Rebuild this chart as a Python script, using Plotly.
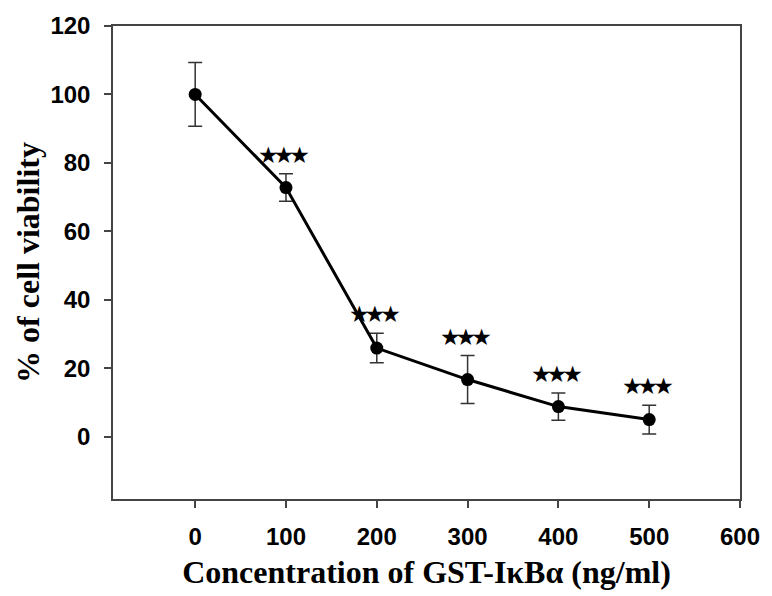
import plotly.graph_objects as go

conc = [0, 100, 200, 300, 400, 500]
viability = [100.0, 72.8, 25.9, 16.7, 8.8, 5.0]
sem = [9.3, 4.0, 4.3, 7.0, 4.0, 4.2]
signif = ["", "★★★", "★★★", "★★★", "★★★", "★★★"]
x_ticks = [0, 100, 200, 300, 400, 500, 600]
y_ticks = [0, 20, 40, 60, 80, 100, 120]

fig = go.Figure()
fig.add_trace(go.Scatter(
    x=conc, y=viability, mode="lines+markers",
    line=dict(color="black", width=3),
    marker=dict(color="black", size=13, symbol="circle"),
    error_y=dict(type="data", array=sem, visible=True, color="#333333",
                 thickness=1.5, width=7),
    showlegend=False,
))

for xv, yv, ev, s in zip(conc, viability, sem, signif):
    if s:
        fig.add_annotation(x=xv, y=yv + ev,
                           text='<span style="letter-spacing:-5px">' + s + '</span>',
                           showarrow=False, yanchor="middle", yshift=19, xshift=-2,
                           font=dict(family="DejaVu Sans", size=23, color="black"))

axis_common = dict(
    showline=True, linecolor="#444444", linewidth=1.5, mirror=True,
    ticks="outside", ticklen=7, tickwidth=1.5, tickcolor="#444444",
    showgrid=False, zeroline=False,
    tickfont=dict(family="Liberation Sans", size=24, color="black", weight="bold"),
)

fig.update_xaxes(range=[-90.5, 600], tickvals=x_ticks,
                 title=dict(text="<b>Concentration of GST-IκBα (ng/ml)</b>",
                            font=dict(family="Liberation Serif", size=32, color="black"),
                            standoff=12),
                 ticklabelstandoff=8, **axis_common)
fig.update_yaxes(range=[-18.2, 120], tickvals=y_ticks,
                 title=dict(text="<b>% of cell viability</b>",
                            font=dict(family="Liberation Serif", size=32, color="black"),
                            standoff=1),
                 ticklabelstandoff=9, **axis_common)

fig.update_layout(
    width=772, height=596,
    margin=dict(l=113, r=25, t=22, b=95),
    plot_bgcolor="white", paper_bgcolor="white",
)

fig.write_html("out.html")
